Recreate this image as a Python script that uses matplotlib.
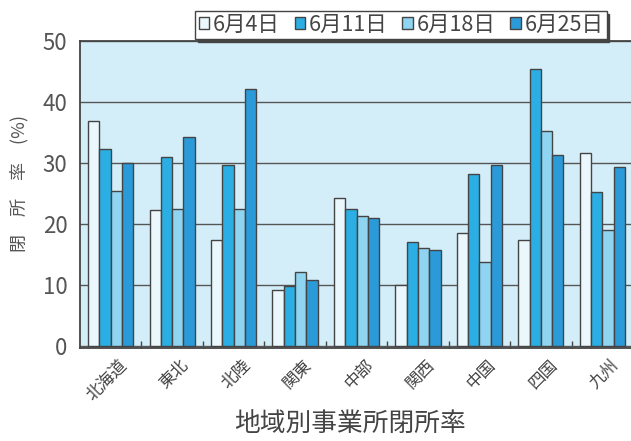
import numpy as np
import matplotlib.pyplot as plt
import matplotlib.transforms as mtransforms
from matplotlib.patches import Patch

plt.rcParams['font.family'] = ['Noto Sans CJK JP', 'DejaVu Sans']

# 地域と各週の閉所率 (%)
regions = ['北海道', '東北', '北陸', '関東', '中部', '関西', '中国', '四国', '九州']
dates = ['6月4日', '6月11日', '6月18日', '6月25日']
jun04 = [36.9, 22.2, 17.3, 9.1, 24.2, 10.0, 18.4, 17.3, 31.6]
jun11 = [32.2, 31.0, 29.7, 9.7, 22.5, 17.0, 28.1, 45.4, 25.2]
jun18 = [25.4, 22.5, 22.5, 12.0, 21.2, 16.0, 13.7, 35.2, 19.0]
jun25 = [30.0, 34.3, 42.2, 10.7, 20.9, 15.7, 29.7, 31.3, 29.3]

colors = ['#eaf7fc', '#2aaee3', '#8fd4f0', '#2a9bd8']
series = [jun04, jun11, jun18, jun25]

fig = plt.figure(figsize=(6.31, 4.41), dpi=100)
ax = fig.add_axes([80 / 631, 93 / 441, 553 / 631, 307 / 441])
ax.set_facecolor('#d4eef9')

x = np.arange(len(regions))
w = 0.184
for k, vals in enumerate(series):
    ax.bar(x + (k - 1.5) * w, vals, width=w, color=colors[k],
           edgecolor='#444444', linewidth=1.0, zorder=3)

ax.set_xlim(-0.5, len(regions) - 0.5)
ax.set_ylim(-0.4, 50)
ax.set_yticks([0, 10, 20, 30, 40, 50])
ax.tick_params(axis='y', length=0, labelsize=16, labelcolor='#555555', pad=9)
ax.yaxis.grid(True, color='#555555', linewidth=1.0, zorder=1)
ax.set_axisbelow(True)

ax.set_xticks(x)
ax.set_xticklabels(regions, rotation=45, ha='right', rotation_mode='anchor',
                   fontsize=12, color='#444444')
ax.tick_params(axis='x', length=0, pad=6)
# ラベルを少し右へずらす
shift = mtransforms.ScaledTranslation(8 / 100, 0, fig.dpi_scale_trans)
for lab in ax.get_xticklabels():
    lab.set_transform(lab.get_transform() + shift)
ax.set_xticks(np.arange(0.5, len(regions) - 0.5, 1), minor=True)
ax.tick_params(axis='x', which='minor', direction='in', length=5,
               color='#444444', width=1)

for s in ['left', 'bottom', 'top']:
    ax.spines[s].set_color('#444444')
    ax.spines[s].set_linewidth(1.3)
ax.spines['right'].set_visible(False)

fig.text(19 / 631, 1 - 183 / 441, '閉　所　率　(%)', rotation=90,
         ha='center', va='center', fontsize=13, color='#555555')
fig.text(350 / 631, 1 - 424 / 441, '地域別事業所閉所率', ha='center',
         va='center', fontsize=18.5, color='#444444')

handles = [Patch(facecolor=c, edgecolor='#444444', linewidth=1.0) for c in colors]
leg = fig.legend(handles, dates, ncol=4, loc='center',
                 bbox_to_anchor=(401 / 631, 1 - 25 / 441), fontsize=15.5,
                 handlelength=0.5, handleheight=0.5, handletextpad=0.15,
                 columnspacing=0.7, borderpad=0.15, frameon=True, fancybox=False,
                 shadow={'color': '#444444', 'alpha': 1.0}, labelcolor='#444444')
leg.get_frame().set_edgecolor('#444444')
leg.get_frame().set_linewidth(1.0)
leg.get_frame().set_facecolor('white')

fig.savefig('out.png', dpi=100)
